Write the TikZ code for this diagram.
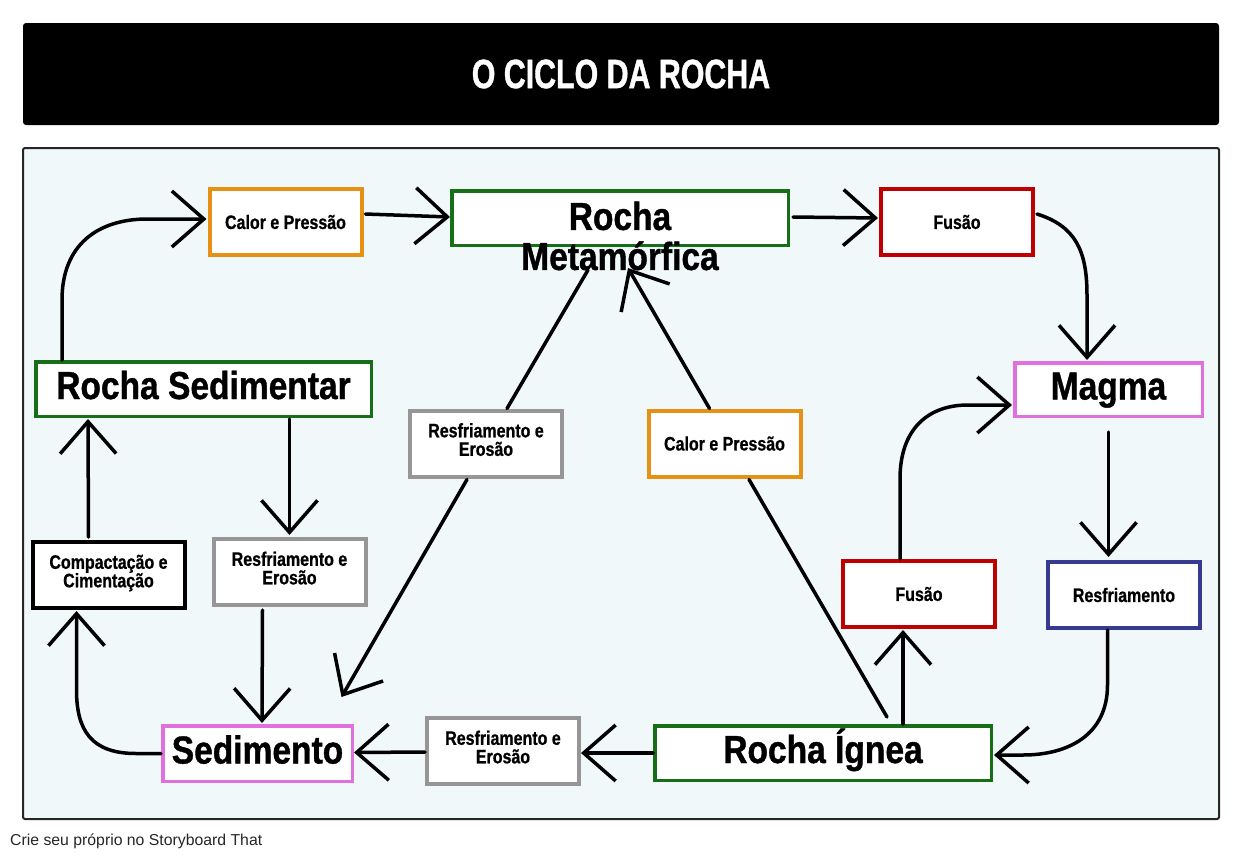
\documentclass[tikz,border=0pt]{standalone}
\usepackage{fontspec}
\usetikzlibrary{arrows.meta,calc}
\setmainfont{Liberation Sans}
\newfontfamily\bigf{Liberation Sans}[FakeStretch=0.86,FakeBold=1]
\newfontfamily\smf{Liberation Sans}[FakeStretch=0.82,FakeBold=0.8]
\newfontfamily\titf{Liberation Sans}[FakeStretch=0.74,FakeBold=1]
\newfontfamily\footf{Liberation Sans}
\definecolor{cgreen}{RGB}{22,110,22}
\definecolor{corange}{RGB}{230,145,20}
\definecolor{cred}{RGB}{190,0,0}
\definecolor{cpink}{RGB}{225,112,222}
\definecolor{cgrey}{RGB}{150,150,150}
\definecolor{cnavy}{RGB}{55,58,145}
\definecolor{cpanel}{RGB}{241,248,250}
\newcommand{\dn}{\rule[-8pt]{0pt}{8pt}}
\begin{document}
\begin{tikzpicture}[x=1pt,y=-1pt,
  box/.style={draw, fill=white, inner sep=0pt, align=center},
  smallbox/.style={box, line width=4pt, minimum width=152pt, minimum height=66pt,
    font=\smf\bfseries\fontsize{19.5}{18.5}\selectfont},
  bigbox/.style={box, line width=3.5pt, text height=28pt, text depth=8pt,
    font=\bigf\bfseries\fontsize{39}{40}\selectfont},
  flow/.style={line width=3.5pt, line cap=round, line join=round,
    -{Straight Barb[length=32pt, width=56pt]}},
  plainline/.style={line width=3.5pt, line cap=round}]
\useasboundingbox (0,0) rectangle (1243,857);
% title and panel
\node[fill=black, rounded corners=3pt, minimum width=1196pt, minimum height=102pt, inner sep=0pt,
  text=white, font=\titf\bfseries\fontsize{41}{41}\selectfont] (title) at (621,74) {O CICLO DA ROCHA};
\draw[fill=cpanel, draw=black!85, line width=2pt, rounded corners=2pt] (23,148) rectangle (1219,819);
\node[anchor=base west, inner sep=0pt, text=black!85, font=\footf\fontsize{15.8}{15.8}\selectfont] (foot) at (10,845) {Crie seu próprio no Storyboard That};
% boxes
\node[smallbox, draw=corange] (CP1) at (285.5,222) {Calor e Pressão};
\node[box, draw=cgreen, line width=3.5pt, minimum width=336.5pt, minimum height=54.5pt] (RM) at (620,218) {};
\node[inner sep=0pt, align=center, font=\bigf\bfseries\fontsize{39}{40}\selectfont] (RMtext) at (620,236) {Rocha\\Metamórfica};
\node[smallbox, draw=cred] (F1) at (957,222) {Fusão};
\node[bigbox, draw=cpink, minimum width=187.5pt, minimum height=53.5pt] (Magma) at (1108.5,389.5) {Magma};
\node[bigbox, draw=cgreen, minimum width=335.5pt, minimum height=54.5pt] (RS) at (203.5,389) {Rocha Sedimentar};
\node[smallbox, draw=cgrey] (RE1) at (486,443.5) {Resfriamento e\\Erosão\dn};
\node[smallbox, draw=corange] (CP2) at (724.5,443.5) {Calor e Pressão};
\node[smallbox, draw=black] (CC) at (108.5,575) {Compactação e\\Cimentação\dn};
\node[smallbox, draw=cgrey] (RE2) at (289.5,572) {Resfriamento e\\Erosão\dn};
\node[smallbox, draw=cred] (F2) at (919,594) {Fusão};
\node[smallbox, draw=cnavy] (Resf) at (1124,595) {Resfriamento};
\node[bigbox, draw=cpink, minimum width=189.5pt, minimum height=55.5pt] (Sed) at (257.5,753.5) {Sedimento};
\node[smallbox, draw=cgrey] (RE3) at (503,751) {Resfriamento e\\Erosão\dn};
\node[bigbox, draw=cgreen, minimum width=336.5pt, minimum height=54.5pt] (RI) at (823,753) {Rocha Ígnea};
% connectors
\draw[flow] ($(RS.north west)+(28,0)$) -- ++(0,-60) .. controls +(0,-55) and +(-50,0) .. ($(CP1.west)+(-60,-3)$) -- ($(CP1.west)+(-1,-3)$);
\draw[flow] ($(CP1.east)+(2,-8)$) -- ($(RM.west)+(0,-1)$);
\draw[flow] ($(RM.east)+(3,-1)$) -- ($(F1.west)+(-1,-4)$);
\draw[flow] ($(F1.east)+(2,-8)$) .. controls (1075,226) and (1087,250) .. (1087,295) -- ($(Magma.north)+(-21.5,-1)$);
\draw[flow] ($(Magma.south)+(0,14)$) -- ($(Resf.north)+(-15.5,-3)$);
\draw[flow] ($(Resf.south)+(-16.5,0)$) -- ++(0,55) .. controls +(0,50) and +(45,0) .. ($(RI.east)+(30,2)$) -- ($(RI.east)+(1,2)$);
\draw[flow] ($(RI.north)+(80,0)$) -- ($(F2.south)+(-16,1)$);
\draw[flow] ($(F2.north)+(-19,0)$) -- ++(0,-80) .. controls +(0,-50) and +(-40,0) .. ($(Magma.west)+(-45,15.5)$) -- ($(Magma.west)+(-1,15.5)$);
\draw[plainline] ($(RI.north)+(64,-7)$) -- ($(CP2.south)+(24.5,1)$);
\draw[flow] ($(CP2.north)+(-15,0)$) -- ($(RM.south)+(8,21)$);
\draw[plainline] ($(RM.south)+(-32,23)$) -- ($(RE1.north)+(21,0)$);
\draw[flow] ($(RE1.south)+(-19,1)$) -- ($(Sed.north)+(84,-27)$);
\draw[flow] ($(RS.south)+(86,1)$) -- ($(RE2.north)+(0,-2)$);
\draw[flow] ($(RE2.south)+(-27,3)$) -- ($(Sed.north)+(4.5,-1)$);
\draw[flow] (RI.west) -- ($(RE3.east)+(0,2)$);
\draw[flow] ($(RE3.west)+(0,1)$) -- ($(Sed.east)+(0,-1)$);
\draw[flow] (Sed.west) -- ++(-25,0) .. controls +(-45,0) and +(0,40) .. ($(CC.south)+(-32,80)$) -- ($(CC.south)+(-32,1)$);
\draw[flow] ($(CC.north)+(-20,-3)$) -- ($(RS.south)+(-115.5,1)$);
\end{tikzpicture}
\end{document}
